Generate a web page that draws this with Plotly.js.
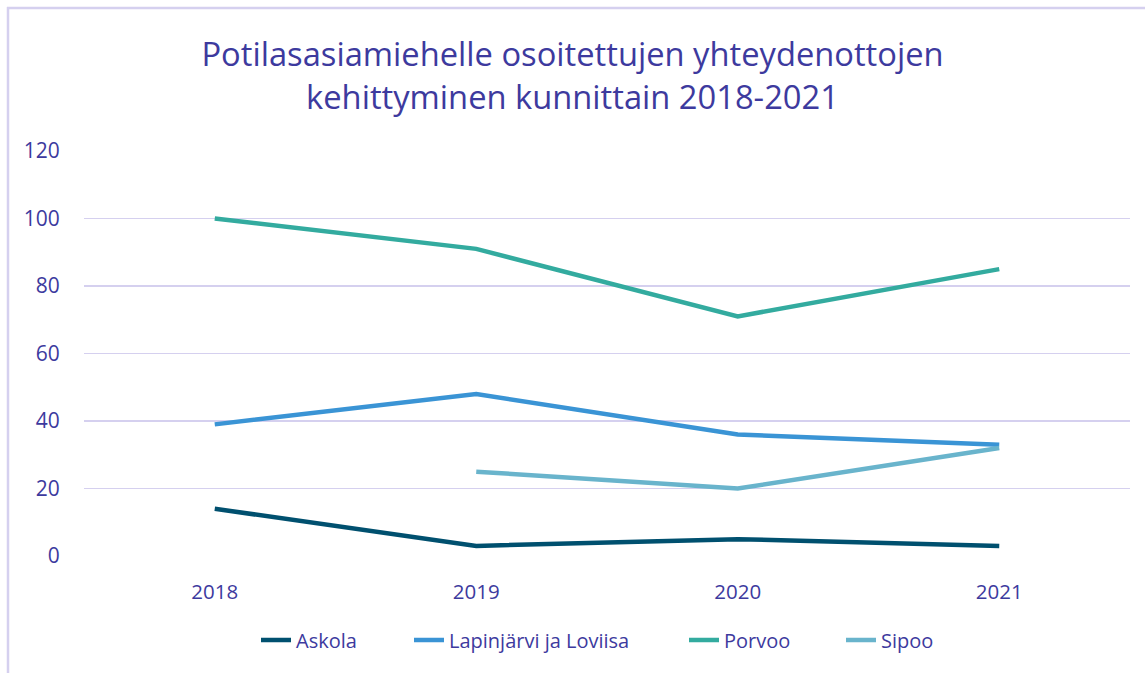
<!DOCTYPE html>
<html>
<head>
<meta charset="utf-8">
<script src="https://cdn.plot.ly/plotly-3.0.1.min.js"></script>
<style>html,body{margin:0;padding:0;background:#fff;}#chart{width:1145px;height:673px;}</style>
</head>
<body>
<div id="chart"></div>
<script>
const years = ['2018', '2019', '2020', '2021'];
const askola = [14, 3, 5, 3];
const lapinjarviLoviisa = [39, 48, 36, 33];
const porvoo = [100, 91, 71, 85];
const sipoo = [null, 25, 20, 32];
const seriesNames = ['Askola', 'Lapinjärvi ja Loviisa', 'Porvoo', 'Sipoo'];
const seriesColors = ['#00506f', '#3a94d5', '#33ab9f', '#69b4cc'];
const yTicks = [0, 20, 40, 60, 80, 100, 120];

const textColor = '#3d3a9e';
const gridColor = '#d5d0ef';
const fontFam = '"Open Sans", "Noto Sans", sans-serif';

const W = 1145, H = 673, L = 84, R = 15, T = 151, B = 117;
const pw = W - L - R, ph = H - T - B;
const px = v => (v - L) / pw;
const py = v => (H - B - v) / ph;

const legendIds = ['legend', 'legend2', 'legend3', 'legend4'];
const legendTextX = [300, 453, 728, 885];

const allSeries = [askola, lapinjarviLoviisa, porvoo, sipoo];
const traces = allSeries.map((vals, i) => ({
  x: years, y: vals, type: 'scatter', mode: 'lines', name: seriesNames[i],
  line: {color: seriesColors[i], width: 4.5}, connectgaps: false,
  legend: legendIds[i]
}));

const layout = {
  width: W, height: H,
  margin: {l: L, r: R, t: T, b: B},
  paper_bgcolor: '#fff', plot_bgcolor: '#fff',
  font: {family: fontFam, color: textColor, size: 20},
  title: {
    text: 'Potilasasiamiehelle osoitettujen yhteydenottojen<br>kehittyminen kunnittain 2018-2021',
    font: {family: fontFam, size: 32.7, color: textColor},
    x: 0.5, xanchor: 'center', yref: 'container', y: 1 - 66 / H, yanchor: 'middle'
  },
  xaxis: {
    type: 'category', range: [-0.5, 3.5], showgrid: false, zeroline: false,
    showline: false, ticks: 'outside', ticklen: 17, tickcolor: 'rgba(0,0,0,0)',
    tickfont: {size: 20.5, color: textColor}
  },
  yaxis: {
    range: [0, 120], tickvals: yTicks, showgrid: true, gridcolor: gridColor, gridwidth: 1.5,
    zeroline: false, showline: false, ticks: 'outside', ticklen: 19, tickcolor: 'rgba(0,0,0,0)',
    tickfont: {size: 21, color: textColor}, fixedrange: true
  },
  showlegend: true,
  shapes: [
    {type: 'line', xref: 'paper', yref: 'paper', x0: px(7), x1: px(1150), y0: py(8), y1: py(8),
     line: {color: gridColor, width: 2.5}},
    {type: 'line', xref: 'paper', yref: 'paper', x0: px(8), x1: px(8), y0: py(7), y1: py(680),
     line: {color: gridColor, width: 2.5}}
  ]
};
legendIds.forEach((id, i) => {
  layout[id] = {
    orientation: 'h', x: px(legendTextX[i] - 44), xanchor: 'left', y: py(640), yanchor: 'middle',
    font: {size: 20, color: textColor}, itemwidth: 30, bgcolor: 'rgba(0,0,0,0)'
  };
});

Plotly.newPlot('chart', traces, layout, {displayModeBar: false, staticPlot: true});
</script>
</body>
</html>
